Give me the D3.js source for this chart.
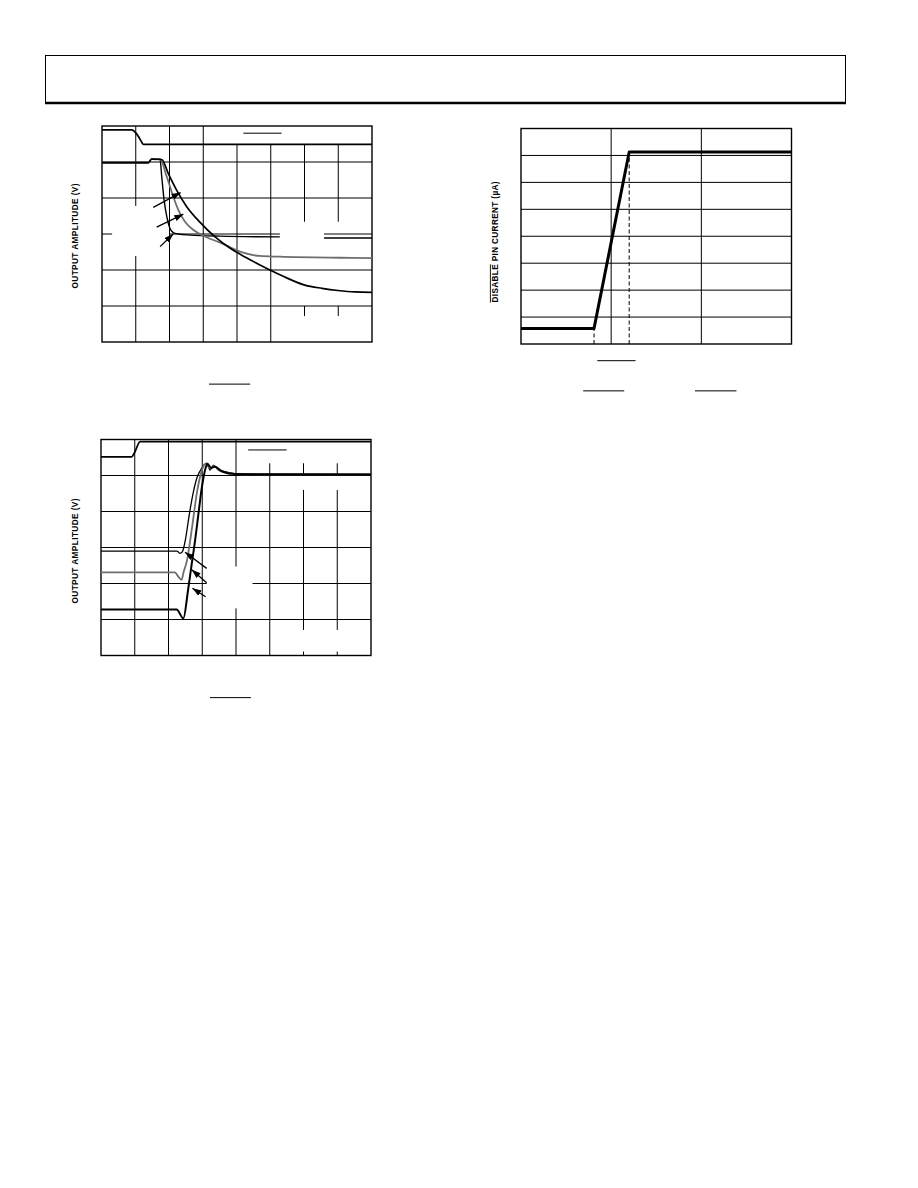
<!DOCTYPE html>
<html><head><meta charset="utf-8">
<script src="https://cdn.jsdelivr.net/npm/d3@7"></script>
<style>body{margin:0;background:#fff}svg{display:block}</style>
</head><body>
<svg id="page" width="918" height="1188"></svg>
<script>
// ---------------- DATA ----------------
// Chart 1 : output amplitude vs time (divisions)
const c1XTicks = [0,1,2,3,4,5,6,7,8];
const c1YTicks = [0,1,2,3,4,5,6];
const c1Disable = [[0,5.89],[0.88,5.89],[0.98,5.83],[1.07,5.72],[1.16,5.58],[1.22,5.49],[8,5.49]];
const c1CurveA = [[0,4.98],[1.37,4.98],[1.47,5.08],[1.72,5.08],[1.77,4.59],[1.84,3.94],[1.92,3.48],[2.01,3.16],[2.11,3.04],[2.26,3.0],[2.61,2.97],[3.5,2.94],[5.27,2.92],null,[6.58,2.89],[8,2.89]];
const c1CurveB = [[0,4.98],[1.37,4.98],[1.47,5.08],[1.72,5.08],[1.92,4.59],[2.11,4.04],[2.26,3.67],[2.46,3.34],[2.71,3.11],[3.1,2.91],[3.5,2.76],[4.09,2.51],[4.68,2.39],[5.27,2.37],[7.05,2.34],[8,2.33]];
const c1CurveC = [[0,4.98],[1.37,4.98],[1.47,5.08],[1.77,5.07],[1.96,4.69],[2.21,4.22],[2.51,3.76],[2.9,3.33],[3.35,2.92],[3.79,2.61],[4.24,2.36],[4.68,2.14],[5.13,1.93],[5.57,1.74],[6.01,1.58],[6.52,1.49],[6.99,1.43],[7.5,1.39],[8,1.38]];
const c1Arrows = [[[1.52,3.74],[2.33,4.15]],[[1.62,3.19],[2.41,3.55]],[[1.72,2.65],[2.11,3.0]]];
const c1Overlines = [[4.19,5.32,5.80],[3.17,4.39,-1.17]];

// Chart 2 : output amplitude vs time (divisions)
const c2XTicks = [0,1,2,3,4,5,6,7,8];
const c2YTicks = [0,1,2,3,4,5,6];
const c2Disable = [[0,5.52],[0.91,5.52],[1.0,5.65],[1.16,5.94],[8,5.94]];
const c2CurveT = [[0,2.9],[2.25,2.9],[2.34,2.84],[2.41,2.88],[2.5,3.21],[2.61,3.88],[2.73,4.51],[2.84,4.93],[2.99,5.21],[3.08,5.32],[3.14,5.34],[3.23,5.15],[3.33,5.29],[3.48,5.15],[3.67,5.11],[4.12,5.03],[8,5.03]];
const c2CurveG = [[0,2.31],[2.19,2.31],[2.29,2.19],[2.39,2.1],[2.44,2.29],[2.55,2.65],[2.7,3.57],[2.84,4.51],[2.99,5.15],[3.1,5.32],[3.23,5.21],[3.35,5.26],[3.53,5.13],[3.82,5.06],[4.27,5.03],[8,5.03]];
const c2CurveB = [[0,1.28],[2.24,1.28],[2.44,1.03],[2.58,1.82],[2.68,2.49],[2.79,3.21],[2.89,3.96],[2.99,4.68],[3.1,5.21],[3.16,5.32],[3.26,5.21],[3.38,5.24],[3.59,5.11],[3.97,5.04],[8,5.03]];
const c2Arrows = [[[3.13,2.42],[2.49,2.87]],[[3.13,2.02],[2.69,2.38]],[[3.10,1.63],[2.71,1.87]]];
const c2Overlines = [[4.36,5.50,5.71],[3.23,4.44,-1.17]];

// Chart 3 : DISABLE pin current vs DISABLE voltage (divisions)
const c3XTicks = [0,1,2,3];
const c3YTicks = [0,1,2,3,4,5,6,7,8];
const c3Current = [[0,0.58],[0.81,0.58],[1.2,7.13],[3,7.13]];
const c3Markers = [[0.81,0.58],[1.2,7.13]];
const c3Overlines = [[0.846,1.271,-0.62],[0.69,1.145,-1.74],[1.93,2.39,-1.74]];

const yTitle12 = "OUTPUT AMPLITUDE (V)";
const yTitle3Over = "DISABLE";
const yTitle3Rest = " PIN CURRENT (\u00B5A)";

// ---------------- DRAW ----------------
const svg = d3.select("#page");
const defs = svg.append("defs");
defs.append("marker").attr("id","ah").attr("viewBox","0 0 10 7")
  .attr("refX",10).attr("refY",3.5).attr("markerWidth",9).attr("markerHeight",6.3)
  .attr("markerUnits","userSpaceOnUse").attr("orient","auto")
  .append("path").attr("d","M0,0L10,3.5L0,7Z").attr("fill","#000");

// header frame
svg.append("rect").attr("x",45.5).attr("y",55.5).attr("width",800).attr("height",47)
  .attr("fill","none").attr("stroke","#000").attr("stroke-width",1);
svg.append("line").attr("x1",45).attr("x2",846).attr("y1",103).attr("y2",103)
  .attr("stroke","#000").attr("stroke-width",2.5);

function segs(lo, hi, gaps){
  const out=[]; let s=lo;
  (gaps||[]).slice().sort((a,b)=>a[0]-b[0]).forEach(g=>{ if(g[0]>s) out.push([s,g[0]]); s=Math.max(s,g[1]); });
  if(s<hi) out.push([s,hi]);
  return out;
}

function chart(cfg){
  const g = svg.append("g");
  const x = d3.scaleLinear().domain(cfg.xd).range([cfg.l,cfg.r]);
  const y = d3.scaleLinear().domain(cfg.yd).range([cfg.b,cfg.t]);
  const grid = g.append("g").attr("stroke","#000").attr("stroke-width",1);
  cfg.xt.slice(1,-1).forEach(v=>{
    segs(cfg.yd[0],cfg.yd[1],(cfg.vg||{})[v]).forEach(s=>{
      grid.append("line").attr("x1",x(v)).attr("x2",x(v)).attr("y1",y(s[0])).attr("y2",y(s[1]));
    });
  });
  cfg.yt.slice(1,-1).forEach(v=>{
    segs(cfg.xd[0],cfg.xd[1],(cfg.hg||{})[v]).forEach(s=>{
      grid.append("line").attr("y1",y(v)).attr("y2",y(v)).attr("x1",x(s[0])).attr("x2",x(s[1]));
    });
  });
  g.append("rect").attr("x",cfg.l).attr("y",cfg.t).attr("width",cfg.r-cfg.l).attr("height",cfg.b-cfg.t)
    .attr("fill","none").attr("stroke","#000").attr("stroke-width",1.4);
  const line = d3.line().defined(d=>d!=null).x(d=>x(d[0])).y(d=>y(d[1])).curve(d3.curveMonotoneX);
  const lineL = d3.line().defined(d=>d!=null).x(d=>x(d[0])).y(d=>y(d[1]));
  (cfg.series||[]).forEach(s=>{
    g.append("path").attr("d",(s.linear?lineL:line)(s.data)).attr("fill","none")
      .attr("stroke",s.color).attr("stroke-width",s.w).attr("stroke-linejoin","round");
  });
  (cfg.arrows||[]).forEach(a=>{
    g.append("line").attr("x1",x(a[0][0])).attr("y1",y(a[0][1])).attr("x2",x(a[1][0])).attr("y2",y(a[1][1]))
      .attr("stroke","#000").attr("stroke-width",1.3).attr("marker-end","url(#ah)");
  });
  (cfg.over||[]).forEach(o=>{
    g.append("line").attr("x1",x(o[0])).attr("x2",x(o[1])).attr("y1",y(o[2])).attr("y2",y(o[2]))
      .attr("stroke","#000").attr("stroke-width",1);
  });
  return {g,x,y};
}

chart({l:102,r:372,t:126,b:342,xd:[0,8],yd:[0,6],xt:c1XTicks,yt:c1YTicks,
  vg:{1:[[2.39,3.78]],4:[[5.5,6]],5:[[5.5,6]],6:[[0,0.72],[1.0,3.34],[5.5,6]],7:[[0,0.72],[1.0,3.34],[5.5,6]]},
  hg:{3:[[0.3,2.0],[5.27,6.58]]},
  series:[
    {data:c1Disable,color:"#000",w:1.8},
    {data:c1CurveA,color:"#000",w:1.4},
    {data:c1CurveB,color:"#6e6e6e",w:1.8},
    {data:c1CurveC,color:"#000",w:1.7}],
  arrows:c1Arrows, over:c1Overlines});

chart({l:101,r:371,t:439.5,b:655.5,xd:[0,8],yd:[0,6],xt:c2XTicks,yt:c2YTicks,
  vg:{4:[[1.31,2.47]],5:[[5.34,6]],6:[[5.34,6],[4.6,5.01],[0.11,0.71]],7:[[5.34,6],[4.6,5.01],[0.11,0.71]]},
  hg:{2:[[3.13,4.49]]},
  series:[
    {data:c2Disable,color:"#000",w:1.8},
    {data:c2CurveT,color:"#000",w:1.3},
    {data:c2CurveG,color:"#6e6e6e",w:1.8},
    {data:c2CurveB,color:"#000",w:2.0}],
  arrows:c2Arrows, over:c2Overlines});

const c3 = chart({l:521,r:791.5,t:128.5,b:344,xd:[0,3],yd:[0,8],xt:c3XTicks,yt:c3YTicks,
  series:[{data:c3Current,color:"#000",w:3,linear:true}],
  over:c3Overlines});
c3Markers.forEach(m=>{
  c3.g.append("line").attr("x1",c3.x(m[0])).attr("x2",c3.x(m[0])).attr("y1",c3.y(0)).attr("y2",c3.y(m[1]))
    .attr("stroke","#000").attr("stroke-width",1).attr("stroke-dasharray","4,2.5");
});

function yTitle(cx, cy, len, parts){
  const t = svg.append("text").attr("transform",`translate(${cx},${cy}) rotate(-90)`)
    .attr("text-anchor","middle").attr("font-family","Liberation Sans, Arial, sans-serif")
    .attr("font-weight","bold").attr("font-size",8.2).attr("dy","0.35em")
    .attr("textLength",len).attr("lengthAdjust","spacing").attr("fill","#000");
  parts.forEach(p=>t.append("tspan").text(p));
  return t;
}
yTitle(75.5,236,105,[yTitle12]);
yTitle(75.5,551,105,[yTitle12]);
const t3 = yTitle(495,242,121,[yTitle3Over,yTitle3Rest]);
const node = t3.node();
const p0 = node.getStartPositionOfChar(0), p1 = node.getEndPositionOfChar(yTitle3Over.length-1);
svg.append("line").attr("transform","translate(495,242) rotate(-90)")
  .attr("x1",p0.x).attr("x2",p1.x).attr("y1",-4.6).attr("y2",-4.6)
  .attr("stroke","#000").attr("stroke-width",0.9);
</script>
</body></html>
